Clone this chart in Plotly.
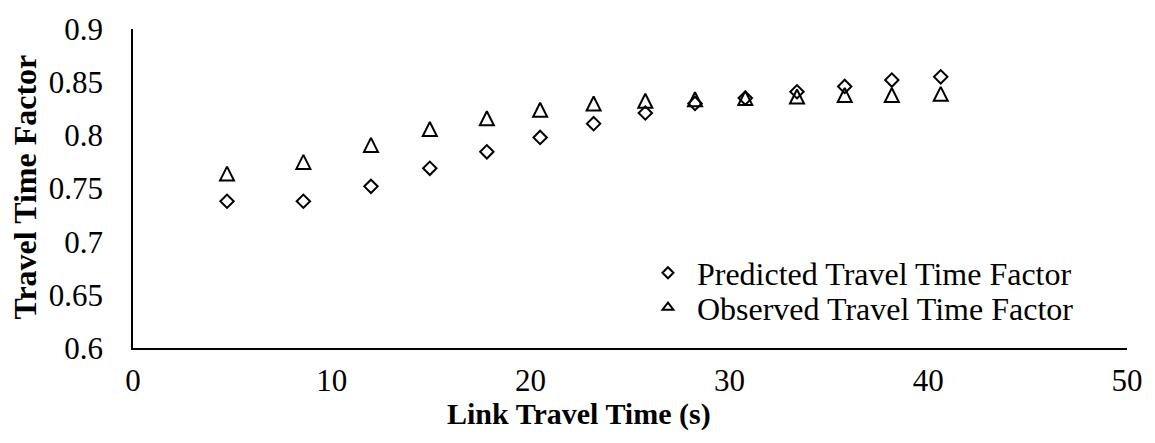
import plotly.graph_objects as go

# Link travel time (s) for each sample bin
link_time = [4.73, 8.57, 11.97, 14.93, 17.8, 20.48, 23.17, 25.77, 28.27, 30.8, 33.4, 35.8, 38.17, 40.63]

# Travel time factor per bin
predicted = [0.738, 0.738, 0.752, 0.769, 0.7845, 0.798, 0.811, 0.821, 0.830, 0.835, 0.841, 0.846, 0.852, 0.855]
observed = [0.764, 0.775, 0.791, 0.806, 0.816, 0.824, 0.830, 0.8325, 0.834, 0.835, 0.8365, 0.838, 0.838, 0.839]

x_ticks = [0, 10, 20, 30, 40, 50]
y_ticks = [0.6, 0.65, 0.7, 0.75, 0.8, 0.85, 0.9]
y_tick_text = ["0.6", "0.65", "0.7", "0.75", "0.8", "0.85", "0.9"]

series_names = ["Predicted Travel Time Factor", "Observed Travel Time Factor"]

FONT = "Liberation Serif, Times New Roman, serif"

fig = go.Figure()
fig.add_trace(go.Scatter(
    x=link_time, y=predicted, mode="markers",
    name=series_names[0], showlegend=False,
    marker=dict(symbol="diamond-open", size=10.3, color="black",
                line=dict(width=2, color="black")),
))
# tall open triangle: a flipped arrow head, pulled back so it sits centred on the point
fig.add_trace(go.Scatter(
    x=link_time, y=observed, mode="markers",
    name=series_names[1], showlegend=False,
    marker=dict(symbol="arrow-down-open", angle=180, size=14, standoff=7,
                color="black", line=dict(width=2, color="black")),
))

# legend keys with smaller symbols, one legend per row
fig.add_trace(go.Scatter(
    x=[None], y=[None], mode="markers", name=series_names[0], legend="legend",
    marker=dict(symbol="diamond-open", size=8.5, color="black",
                line=dict(width=2, color="black")),
))
fig.add_trace(go.Scatter(
    x=[None], y=[None], mode="markers", name=series_names[1], legend="legend2",
    marker=dict(symbol="triangle-up-open", size=9.5, color="black",
                line=dict(width=2, color="black")),
))

legend_style = dict(
    xanchor="left", yanchor="middle",
    bgcolor="rgba(0,0,0,0)", borderwidth=0,
    itemwidth=48,
    font=dict(family=FONT, size=32, color="black"),
)

fig.update_layout(
    width=1155, height=443,
    margin=dict(l=133, r=22, t=25, b=95),
    paper_bgcolor="white", plot_bgcolor="white",
    font=dict(family=FONT, size=31, color="black"),
    showlegend=True,
    legend=dict(x=0.509, y=0.2353, **legend_style),
    legend2=dict(x=0.509, y=0.127, **legend_style),
    annotations=[
        dict(text="<b>Link Travel Time (s)</b>", xref="paper", yref="paper",
             x=0.449, y=-0.2074, xanchor="center", yanchor="middle",
             showarrow=False, font=dict(family=FONT, size=30, color="black")),
        dict(text="<b>Travel Time Factor</b>", xref="paper", yref="paper",
             x=-0.109, y=0.505, xanchor="center", yanchor="middle",
             textangle=-90,
             showarrow=False, font=dict(family=FONT, size=32, color="black")),
    ],
)

fig.update_xaxes(
    range=[0, 50], tickvals=x_ticks, showgrid=False, zeroline=False,
    showline=True, linecolor="black", linewidth=1.5, ticks="",
    ticklabelstandoff=4,
)
fig.update_yaxes(
    range=[0.6, 0.9], tickvals=y_ticks, ticktext=y_tick_text,
    showgrid=False, zeroline=False,
    showline=True, linecolor="black", linewidth=1.5, ticks="",
    ticklabelstandoff=22,
)

fig.write_html("out.html")
